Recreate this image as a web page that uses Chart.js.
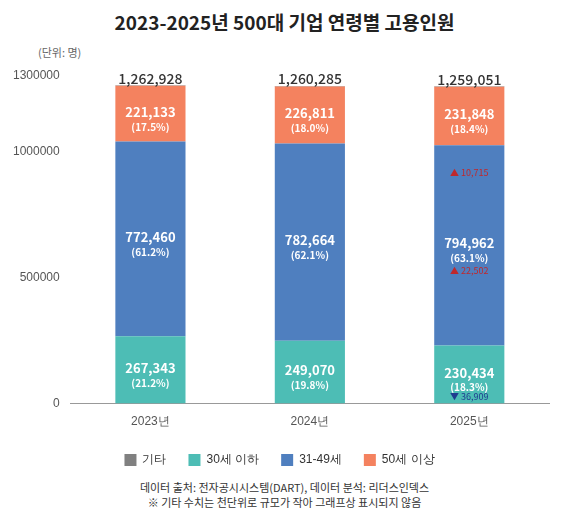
<!DOCTYPE html>
<html><head><meta charset="utf-8">
<script src="https://cdn.jsdelivr.net/npm/chart.js@4"></script>
<style>
body{margin:0;background:#fff;font-family:"Noto Sans CJK KR","Noto Sans",sans-serif;}
#wrap{position:relative;width:569px;height:516px;}
#title{position:absolute;top:8px;left:0;width:569px;text-align:center;font-size:19px;font-weight:bold;color:#222;}
#unit{position:absolute;top:44px;left:38px;font-size:11px;color:#666;}
#c{position:absolute;top:60px;left:0;}
#note{position:absolute;top:480px;left:0;width:569px;text-align:center;font-size:11px;color:#333;line-height:15px;}
</style></head><body>
<div id="wrap">
<div id="title">2023-2025년 500대 기업 연령별 고용인원</div>
<div id="unit">(단위: 명)</div>
<canvas id="c" width="569" height="416"></canvas>
<div id="note">데이터 출처: 전자공시시스템(DART), 데이터 분석: 리더스인덱스<br>※ 기타 수치는 천단위로 규모가 작아 그래프상 표시되지 않음</div>
</div>
<script>
const categories=["2023년","2024년","2025년"];
const under30=[267343,249070,230434];
const mid3149=[772460,782664,794962];
const over50=[221133,226811,231848];
const etc=[1992,1740,1807];
const totals=[1262928,1260285,1259051];
const pctUnder30=["21.2%","19.8%","18.3%"];
const pctMid=["61.2%","62.1%","63.1%"];
const pctOver50=["17.5%","18.0%","18.4%"];
const yTicks=[0,500000,1000000,1300000];
const changes2025={under30:"▼ 36,909",mid:"▲ 22,502",over50:"▲ 10,715"};
const fmt=v=>v.toLocaleString('en-US');
const legendOrder=['기타','30세 이하','31-49세','50세 이상'];
const labelPlugin={id:'lbl',afterDatasetsDraw(ch){
 const c=ch.ctx,y=ch.scales.y;
 c.save();c.textAlign='center';
 [[0,under30,pctUnder30],[1,mid3149,pctMid],[2,over50,pctOver50]].forEach(([di,vals,pcts])=>{
  ch.getDatasetMeta(di).data.forEach((b,i)=>{
   const mid=(b.y+b.base)/2;
   c.fillStyle='#fff';c.font='bold 13px "Noto Sans CJK KR",sans-serif';
   c.fillText(fmt(vals[i]),b.x,mid-2);
   c.font='bold 10px "Noto Sans CJK KR",sans-serif';
   c.fillText('('+pcts[i]+')',b.x,mid+13);
  });
 });
 const m=ch.getDatasetMeta(3).data;
 c.fillStyle='#333';c.font='500 14px "Noto Sans CJK KR",sans-serif';
 m.forEach((b,i)=>c.fillText(fmt(totals[i]),b.x,y.getPixelForValue(totals[i])-7));
 c.font='9px "Noto Sans CJK KR",sans-serif';
 const b0=ch.getDatasetMeta(0).data[2],b1=ch.getDatasetMeta(1).data[2];
 const x=b0.x;
 c.fillStyle='#1f3c8f';c.fillText(changes2025.under30,x,b0.base-7);
 c.fillStyle='#c0282c';c.fillText(changes2025.mid,x,(b1.y+b1.base)/2+25);
 c.fillText(changes2025.over50,x,b1.y+27);
 c.restore();
}};
new Chart(document.getElementById('c'),{type:'bar',
 data:{labels:categories,datasets:[
  {label:'30세 이하',data:under30,backgroundColor:'#4dbdb5'},
  {label:'31-49세',data:mid3149,backgroundColor:'#4f7fbf'},
  {label:'50세 이상',data:over50,backgroundColor:'#f4825f'},
  {label:'기타',data:etc,backgroundColor:'#808080'}]},
 options:{responsive:false,animation:false,
  layout:{padding:{left:10,right:20,top:16,bottom:0}},
  datasets:{bar:{barPercentage:0.44,categoryPercentage:1}},
  scales:{x:{stacked:true,grid:{display:false},ticks:{color:'#555',font:{size:12}},border:{color:'#999'}},
   y:{stacked:true,min:0,max:1300000,afterBuildTicks:a=>{a.ticks=yTicks.map(v=>({value:v}))},
    grid:{display:false},border:{display:false},ticks:{color:'#555',font:{size:12},callback:v=>String(v)}}},
  plugins:{tooltip:{enabled:false},
   legend:{position:'bottom',labels:{boxWidth:12,boxHeight:12,color:'#333',font:{size:12},padding:22,
    sort:(a,b)=>legendOrder.indexOf(a.text)-legendOrder.indexOf(b.text)}}}},
 plugins:[labelPlugin]});
</script></body></html>
